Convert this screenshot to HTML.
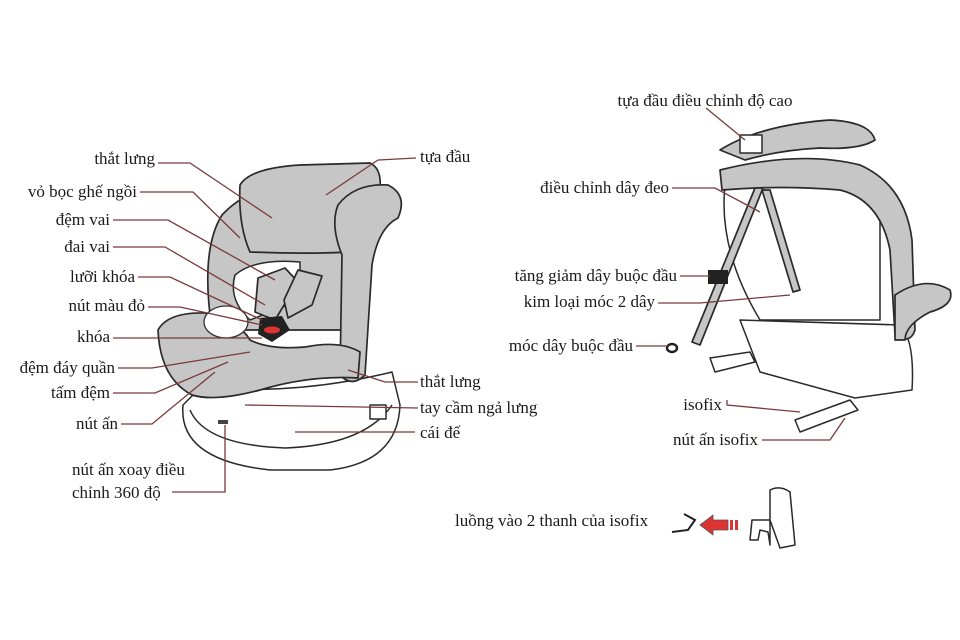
<!DOCTYPE html>
<html><head><meta charset="utf-8"><style>
html,body{margin:0;padding:0;background:#fff;}
svg{display:block}
text{font-family:"Liberation Serif",serif;font-size:17px;fill:#1a1a1a}
.l{stroke:#7a3a3a;stroke-width:1.3;fill:none}
.s{stroke:#2a2a2a;stroke-width:1.7;fill:#c6c6c6;stroke-linejoin:round}
.w{stroke:#2a2a2a;stroke-width:1.5;fill:#fff;stroke-linejoin:round}
</style></head><body>
<svg width="960" height="640" viewBox="0 0 960 640">
<path class="w" d="M183,405 Q178,460 270,470 L330,470 Q398,462 400,405 L392,372 Q300,395 200,388 Z"/>
<path class="w" d="M190,410 Q205,445 285,448 Q365,445 392,405"/>
<path class="s" d="M212,330 Q200,250 222,215 Q245,190 290,180 L350,175 L345,330 Z"/>
<path class="s" d="M240,185 Q250,168 300,165 L370,163 Q385,170 378,200 L372,250 Q330,255 250,252 Q238,225 240,185Z"/>
<path class="w" d="M235,275 Q255,258 300,262 L300,300 L250,320 Q228,300 235,275Z"/>
<path class="s" d="M258,278 L285,268 L298,282 L275,320 L255,312Z"/>
<path class="s" d="M298,270 L322,276 L312,305 L288,318 L284,300Z"/>
<path class="s" d="M338,205 Q355,183 388,185 Q408,195 398,218 Q378,228 372,265 L365,375 Q352,388 340,375 L342,255 Q330,225 338,205Z"/>
<path class="s" d="M158,330 Q168,312 205,313 Q240,322 250,340 Q270,350 305,347 Q340,340 360,352 L358,378 Q310,375 260,390 Q215,402 192,395 Q160,378 158,330Z"/>
<ellipse cx="226" cy="322" rx="22" ry="16" fill="#fff" stroke="#333" stroke-width="1.3"/>
<path d="M260,318 L282,316 L290,330 L272,342 L258,334Z" fill="#222"/>
<ellipse cx="272" cy="330" rx="8" ry="3.5" fill="#d33"/>
<rect x="370" y="405" width="16" height="14" class="w"/>
<rect x="218" y="420" width="10" height="4" fill="#444"/>
<polyline class="l" points="158,163 190,163 272,218"/>
<polyline class="l" points="140,192 193,192 240,238"/>
<polyline class="l" points="113,220 168,220 275,280"/>
<polyline class="l" points="113,247 165,247 265,305"/>
<polyline class="l" points="138,277 170,277 262,320"/>
<polyline class="l" points="148,307 180,307 262,325"/>
<line class="l" x1="113" y1="338" x2="262" y2="338"/>
<polyline class="l" points="118,368 152,368 250,352"/>
<polyline class="l" points="113,393 155,393 228,362"/>
<polyline class="l" points="121,424 152,424 215,372"/>
<polyline class="l" points="172,492 225,492 225,425"/>
<line class="l" x1="326" y1="195" x2="378" y2="160"/>
<line class="l" x1="416" y1="158" x2="378" y2="160"/>
<polyline class="l" points="348,370 385,382 418,382"/>
<line class="l" x1="245" y1="405" x2="418" y2="408"/>
<line class="l" x1="295" y1="432" x2="415" y2="432"/>
<text x="155" y="164" text-anchor="end">thắt lưng</text>
<text x="137" y="197" text-anchor="end">vỏ bọc ghế ngồi</text>
<text x="110" y="225" text-anchor="end">đệm vai</text>
<text x="110" y="252" text-anchor="end">đai vai</text>
<text x="135" y="282" text-anchor="end">lưỡi khóa</text>
<text x="145" y="311" text-anchor="end">nút màu đỏ</text>
<text x="110" y="342" text-anchor="end">khóa</text>
<text x="115" y="373" text-anchor="end">đệm đáy quần</text>
<text x="110" y="398" text-anchor="end">tấm đệm</text>
<text x="118" y="429" text-anchor="end">nút ấn</text>
<text x="72" y="475">nút ấn xoay điều</text>
<text x="72" y="498">chỉnh 360 độ</text>
<text x="420" y="162">tựa đầu</text>
<text x="420" y="387">thắt lưng</text>
<text x="420" y="413">tay cầm ngả lưng</text>
<text x="420" y="438">cái đế</text>
<path class="w" d="M740,320 L900,325 Q915,340 912,390 L855,398 L760,372 Z"/>
<path class="w" d="M725,185 Q718,250 760,320 L880,320 L880,215 Q850,170 800,165 Z"/>
<path class="s" d="M720,150 Q760,125 830,120 Q870,122 875,140 Q860,150 820,148 Q780,150 745,160Z"/>
<path class="s" d="M720,170 Q800,150 860,165 Q905,185 912,240 L915,330 Q910,345 895,335 L890,250 Q880,200 840,190 Q780,185 722,190Z"/>
<path class="s" d="M895,295 Q925,275 950,290 Q955,305 930,312 Q905,325 905,340 L895,340Z"/>
<rect x="740" y="135" width="22" height="18" class="w"/>
<path class="s" d="M755,188 L763,188 L700,345 L692,342Z"/>
<path class="s" d="M762,190 L770,190 L800,290 L793,292Z"/>
<rect x="708" y="270" width="20" height="14" fill="#222"/>
<ellipse cx="672" cy="348" rx="5" ry="4" fill="none" stroke="#222" stroke-width="2.5"/>
<path class="w" d="M710,358 L750,352 L755,362 L715,372Z"/>
<path class="w" d="M795,420 L850,400 L858,410 L800,432Z"/>
<line class="l" x1="706" y1="108" x2="745" y2="140"/>
<polyline class="l" points="672,188 715,188 760,212"/>
<line class="l" x1="680" y1="276" x2="710" y2="276"/>
<polyline class="l" points="658,303 700,303 790,295"/>
<line class="l" x1="636" y1="346" x2="668" y2="346"/>
<polyline class="l" points="727,400 727,405 800,412"/>
<polyline class="l" points="762,440 830,440 845,418"/>
<text x="705" y="106" text-anchor="middle">tựa đầu điều chỉnh độ cao</text>
<text x="669" y="193" text-anchor="end">điều chỉnh dây đeo</text>
<text x="677" y="281" text-anchor="end">tăng giảm dây buộc đầu</text>
<text x="655" y="307" text-anchor="end">kim loại móc 2 dây</text>
<text x="633" y="351" text-anchor="end">móc dây buộc đầu</text>
<text x="722" y="410" text-anchor="end">isofix</text>
<text x="758" y="445" text-anchor="end">nút ấn isofix</text>
<text x="455" y="526">luồng vào 2 thanh của isofix</text>
<polyline points="672,532 688,530 695,520 684,514" fill="none" stroke="#222" stroke-width="2"/>
<path d="M700,525 L713,515 L713,520 L728,520 L728,530 L713,530 L713,535Z" fill="#d33" stroke="#555" stroke-width="0.8"/>
<rect x="730" y="520" width="3" height="10" fill="#d33"/><rect x="735" y="520" width="3" height="10" fill="#d33"/>
<path class="w" d="M770,490 Q780,485 790,492 L795,545 L780,548 L770,520 L752,520 L750,540 L758,540 L760,530 L768,532 L770,545Z"/>
</svg>
</body></html>
